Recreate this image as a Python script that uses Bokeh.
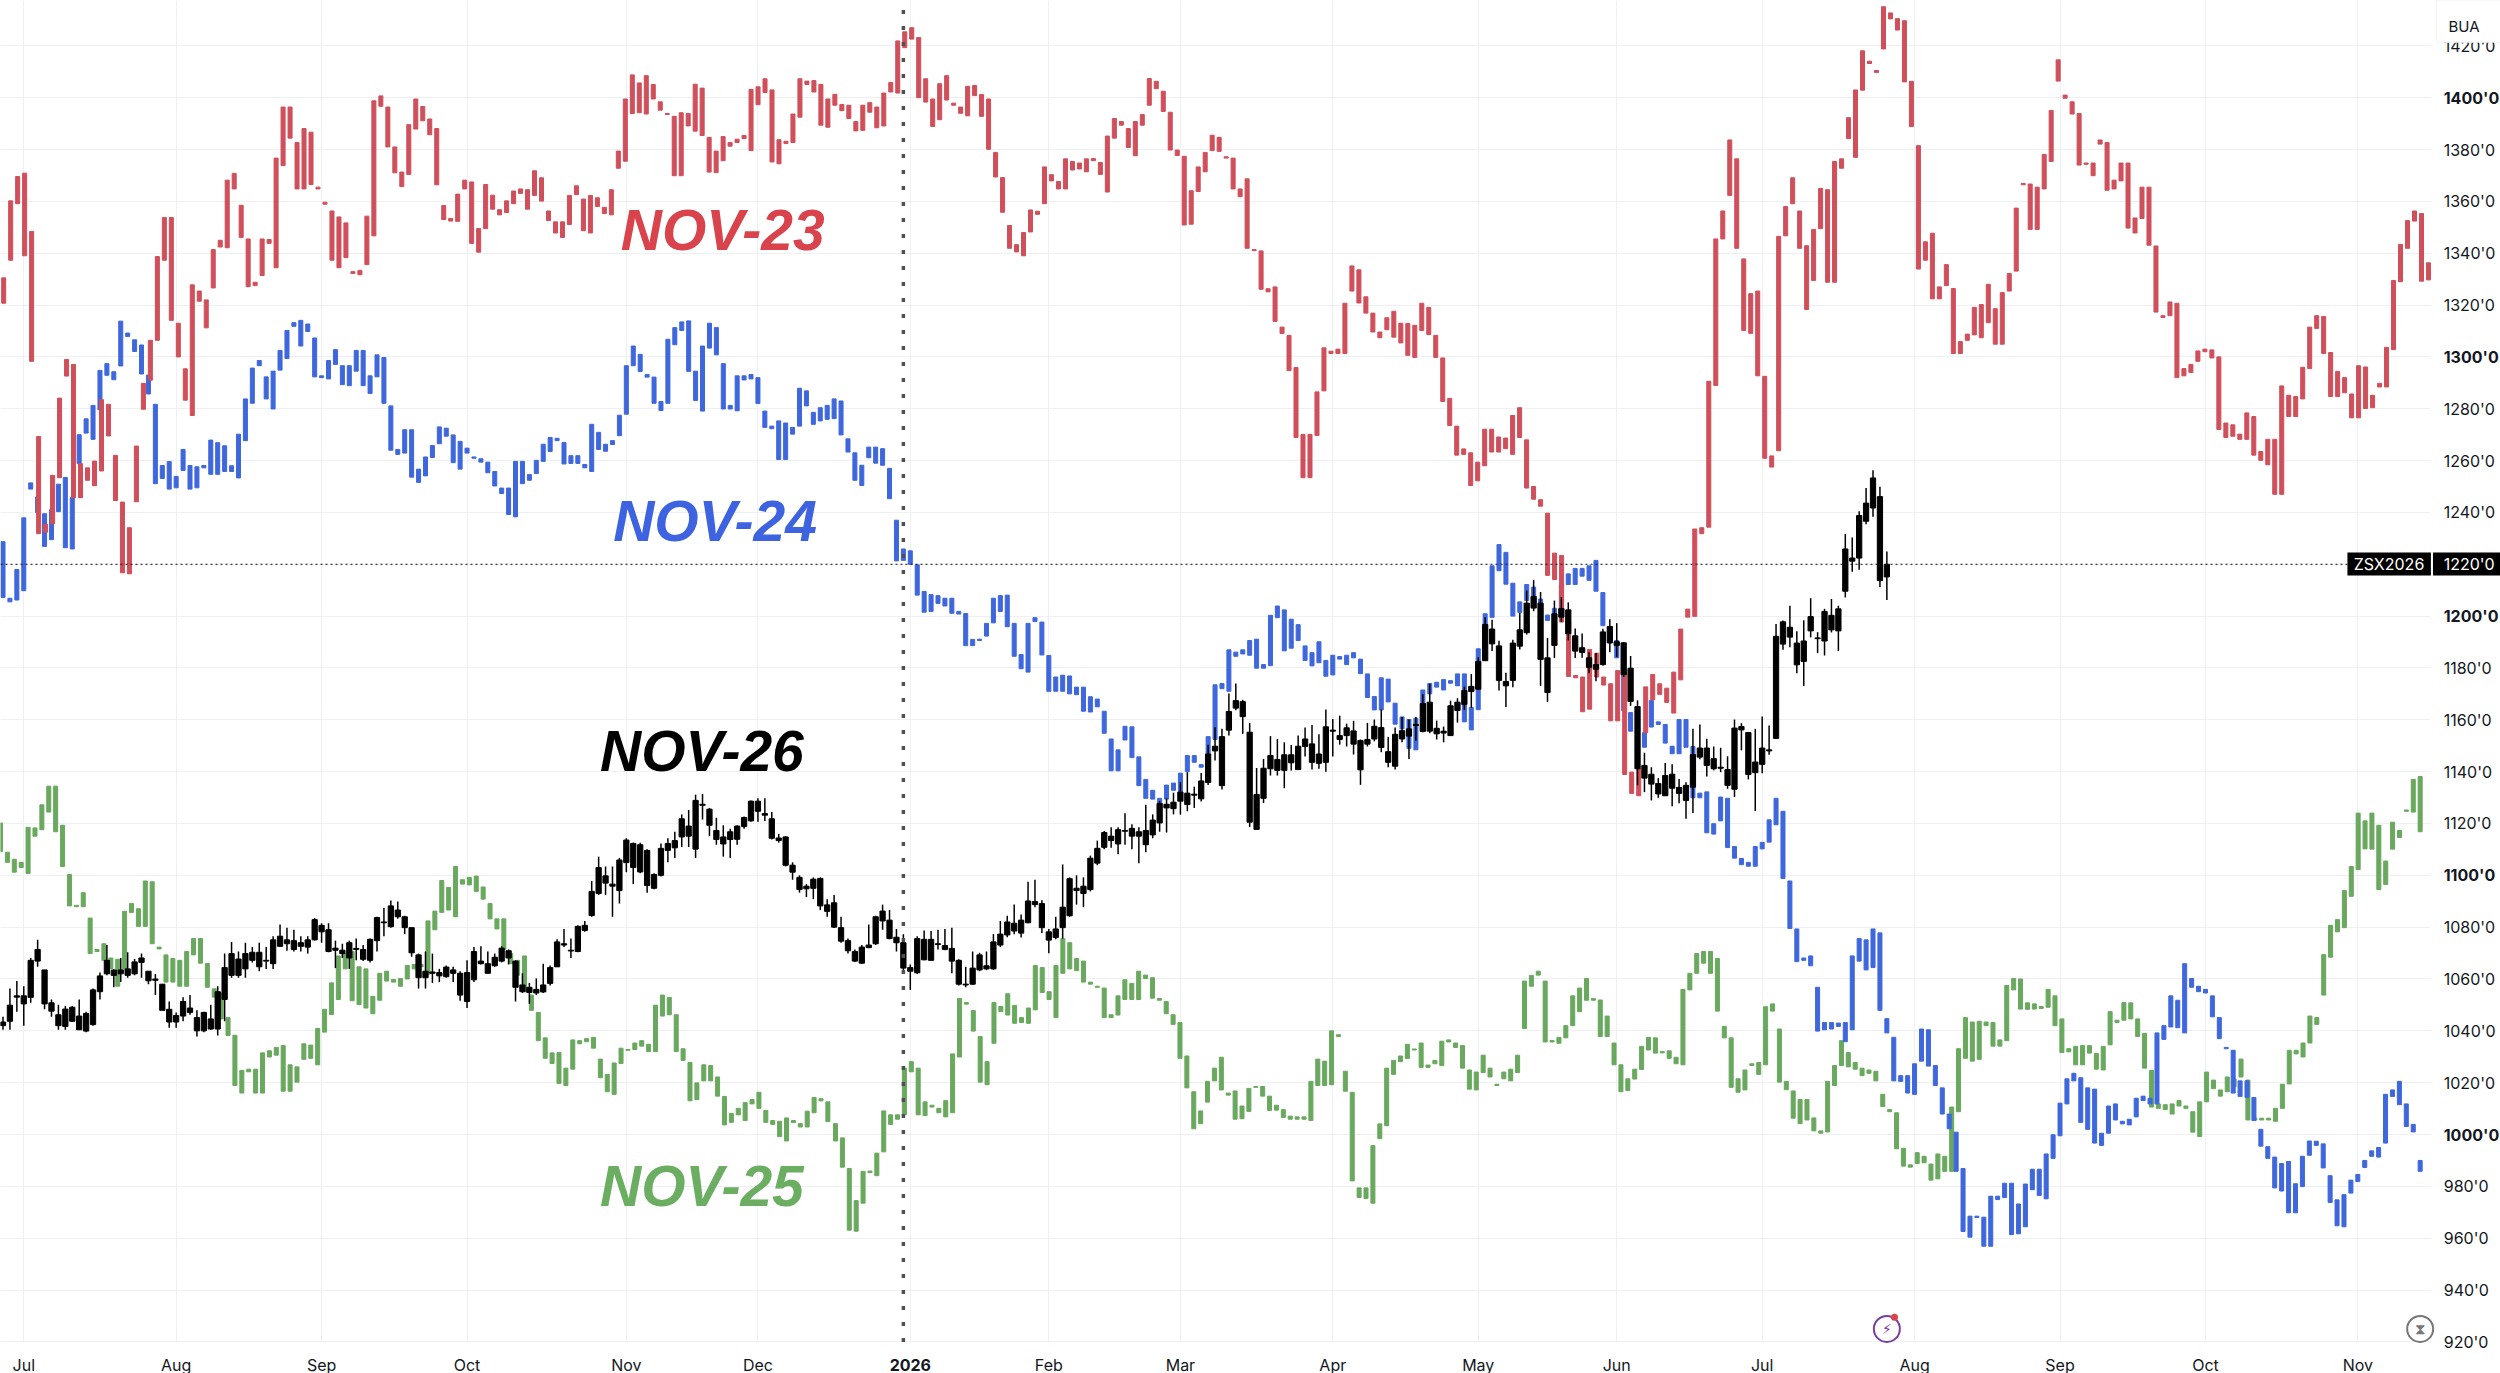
import numpy as np
from bokeh.plotting import figure
from bokeh.models import Range1d, FixedTicker, ColumnDataSource
from bokeh.core.properties import value
from bokeh.embed import file_html
from bokeh.resources import INLINE

# (high, low) of each session
red_bars = [(1330.5,1320.7),(1360.2,1337.3),(1369.6,1359.1),(1370.9,1339.0),(1348.4,1298.3),(1269.3,1231.8),(1235.4,1232.4),(1254.3,1235.6),(1284.1,1253.4),(1299.0,1292.6),
(1297.1,1245.7),(1258.8,1245.7),(1257.2,1252.4),(1259.8,1250.3),(1283.5,1256.0),(1281.7,1269.5),(1262.0,1244.6),(1244.0,1216.7),(1234.1,1216.3),(1265.6,1244.1),
(1289.8,1279.8),(1306.4,1291.0),(1338.7,1306.4),(1353.8,1337.3),(1353.8,1314.1),(1313.0,1300.0),(1295.4,1283.3),(1327.8,1277.4),(1325.4,1321.5),(1322.0,1311.2),
(1341.4,1326.6),(1345.0,1342.4),(1368.2,1342.1),(1370.8,1364.8),(1358.5,1346.1),(1345.5,1327.1),(1328.8,1327.5),(1345.5,1331.4),(1345.3,1343.8),(1376.7,1334.4),
(1396.4,1373.8),(1396.4,1384.4),(1382.7,1364.8),(1388.1,1364.8),(1386.7,1366.5),(1365.5,1364.8),(1359.7,1358.9),(1356.3,1337.3),(1354.0,1334.4),(1351.7,1338.3),
(1332.9,1332.2),(1333.4,1331.7),(1354.3,1335.6),(1398.8,1346.7),(1400.7,1396.7),(1396.4,1381.0),(1381.0,1371.0),(1371.3,1365.7),(1389.6,1370.4),(1399.5,1387.9),
(1396.6,1391.1),(1391.8,1385.7),(1388.1,1366.4),(1358.4,1353.0),(1353.4,1352.4),(1362.8,1352.3),(1368.2,1364.8),(1367.5,1343.8),(1349.5,1340.4),(1366.5,1349.5),
(1362.4,1357.0),(1356.8,1354.8),(1360.2,1355.7),(1364.0,1359.1),(1364.8,1363.1),(1364.5,1357.0),(1371.8,1362.3),(1369.1,1360.1),(1356.3,1352.6),(1352.1,1347.8),
(1352.1,1346.1),(1362.3,1351.1),(1366.0,1362.6),(1360.9,1348.7),(1362.3,1347.8),(1361.4,1358.0),(1357.7,1355.3),(1364.5,1354.8),(1379.4,1372.8),(1399.5,1375.5),
(1408.8,1393.9),(1405.7,1394.2),(1408.5,1393.7),(1405.1,1399.5),(1398.4,1395.2),(1393.9,1393.5),(1392.8,1369.9),(1394.2,1369.9),(1393.9,1389.1),(1405.2,1387.1),
(1403.7,1385.4),(1384.7,1371.3),(1379.4,1371.1),(1385.0,1375.7),(1382.7,1381.3),(1384.0,1382.7),(1385.4,1384.2),(1403.2,1379.6),(1404.2,1397.3),(1407.3,1402.0),
(1403.0,1375.2),(1383.8,1374.5),(1383.2,1382.3),(1393.7,1382.7),(1407.3,1392.5),(1406.4,1405.1),(1406.6,1402.2),(1405.1,1389.4),(1399.5,1388.6),
(1401.3,1397.1),(1397.4,1395.0),(1397.1,1392.0),(1390.8,1387.2),(1397.1,1387.4),(1398.1,1394.4),(1396.4,1388.4),(1401.8,1389.1),(1405.9,1402.2),(1421.9,1401.8),
(1425.4,1419.3),(1427.0,1422.6),(1423.2,1400.0),(1407.3,1398.3),(1399.5,1388.9),(1405.4,1391.5),(1408.5,1399.1),(1397.9,1397.1),(1396.4,1394.0),(1404.4,1393.0),
(1404.7,1400.8),(1401.2,1392.8),(1399.5,1380.1),(1378.9,1369.4),(1369.2,1355.8),(1350.7,1341.9),(1343.3,1340.5),(1348.0,1339.0),(1356.7,1348.2),(1356.2,1355.0),
(1373.3,1359.1),(1370.3,1367.9),(1367.7,1364.8),(1376.4,1364.8),(1375.4,1372.1),(1374.8,1372.5),(1376.4,1371.4),(1376.5,1375.7),(1375.0,1370.4),(1385.2,1363.6),
(1392.0,1384.4),(1390.8,1389.4),(1388.1,1380.8),(1390.8,1377.6),(1393.5,1389.4),(1407.4,1397.1),(1406.3,1403.5),(1402.5,1394.7),(1394.4,1379.8),(1379.8,1377.7),
(1377.4,1350.9),(1364.1,1351.2),(1373.3,1363.8),(1378.9,1371.4),(1385.5,1379.6),(1384.7,1379.3),(1377.2,1376.7),(1376.7,1364.8),(1364.8,1361.8),(1368.7,1341.9),
(1341.4,1341.0),(1340.9,1326.1),(1326.3,1325.1),(1327.0,1313.7),(1311.5,1309.0),(1308.3,1294.7),(1295.9,1268.9),(1270.1,1253.4),(1270.1,1253.4),(1286.5,1269.7),
(1303.5,1286.9),(1302.2,1301.3),(1303.0,1301.3),(1320.7,1301.3),(1335.1,1325.4),(1333.6,1320.8),(1323.2,1316.9),(1316.9,1309.6),(1309.6,1307.4),(1315.1,1310.5),
(1317.6,1307.6),(1313.0,1305.4),(1312.9,1300.6),(1312.2,1299.8),(1320.7,1310.2),(1319.1,1308.6),(1308.3,1299.8),(1299.6,1282.8),(1284.0,1273.5),(1273.3,1262.1),
(1264.5,1262.4),(1263.0,1250.4),(1259.4,1252.2),(1272.1,1258.0),(1272.1,1263.3),(1269.1,1263.3),(1268.7,1264.6),(1277.4,1262.4),(1280.4,1268.9),(1268.0,1249.4),
(1250.0,1245.1),(1244.9,1242.4),(1239.7,1215.7),(1224.3,1214.1),(1223.4,1197.7),(1198.1,1176.7),(1177.1,1176.2),(1176.5,1163.1),(1187.1,1164.1),(1185.7,1176.5),
(1176.5,1173.4),(1173.9,1159.6),(1179.0,1159.6),(1179.0,1138.9),(1139.8,1131.6),(1141.1,1130.7),(1172.7,1155.0),(1177.5,1167.7),(1173.9,1169.8),(1172.2,1166.7),
(1178.4,1162.6),(1195.0,1175.4),(1202.7,1199.6),(1233.6,1199.9),(1234.1,1231.8),(1290.6,1234.3),(1345.5,1289.0),(1356.3,1345.5),(1383.7,1362.3),(1376.4,1341.9),
(1337.8,1310.2),(1324.4,1309.1),(1325.4,1292.7),(1292.5,1260.9),(1261.8,1257.5),(1346.5,1263.8),(1358.0,1346.7),(1369.1,1359.1),(1356.3,1341.9),(1342.9,1318.3),
(1349.2,1329.5),(1365.0,1349.5),(1364.5,1328.8),(1375.4,1328.8),(1376.4,1372.8),(1392.3,1384.2),(1403.0,1377.0),(1418.1,1402.9),(1414.1,1413.2),(1410.5,1409.7),
(1435.1,1418.8),(1432.7,1430.4),(1430.5,1426.1),(1429.7,1406.1),(1406.3,1388.9),(1381.5,1333.9),(1344.4,1337.3),(1347.7,1322.4),(1327.0,1322.4),(1335.6,1327.5),
(1326.4,1301.3),(1305.9,1301.3),(1308.8,1306.4),(1319.1,1308.5),(1320.2,1307.4),(1328.0,1313.2),(1318.6,1304.9),(1324.8,1304.9),(1332.2,1325.4),(1357.4,1333.1),
(1366.9,1366.4),(1366.7,1349.2),(1365.5,1349.2),(1378.1,1364.8),(1395.1,1375.4),(1414.6,1406.4),(1401.0,1399.8),(1398.4,1393.7),(1393.9,1374.0),(1374.8,1374.3),
(1374.8,1369.9),(1383.7,1382.1),(1382.7,1364.3),(1368.2,1364.8),(1374.8,1367.9),(1374.8,1349.7),(1353.6,1347.8),(1365.5,1353.4),(1365.5,1343.1),(1342.8,1317.3),
(1315.9,1315.2),(1321.2,1315.9),(1320.7,1292.0),(1295.5,1292.7),(1297.1,1294.0),(1302.3,1298.3),(1303.0,1302.0),(1302.7,1299.6),(1300.0,1272.0),(1274.5,1268.9),
(1273.8,1269.4),(1270.2,1268.2),(1278.4,1268.2),(1277.0,1262.1),(1263.5,1260.1),(1268.2,1258.4),(1268.2,1247.0),(1288.8,1247.0),(1285.2,1277.0),(1284.7,1277.0),
(1296.0,1283.8),(1311.5,1295.5),(1315.9,1311.0),(1315.6,1301.3),(1301.7,1284.7),(1294.4,1284.7),(1292.0,1286.2),(1285.7,1276.5),(1296.6,1276.5),(1296.1,1280.1),
(1285.2,1280.4),(1289.8,1288.4),(1303.7,1288.4),(1329.5,1302.8),(1343.4,1329.0),(1352.6,1341.9),(1356.3,1352.4),(1355.3,1329.2),(1336.3,1329.7)]

blue_bars = [(1228.7,1207.2),(1206.9,1205.5),(1218.0,1206.2),(1237.9,1209.8),(1251.4,1249.0),(1246.0,1240.0),(1239.5,1226.9),(1241.0,1229.5),(1250.9,1240.3),(1253.5,1226.4),
(1245.7,1225.9),(1270.0,1258.8),(1276.1,1270.6),(1281.3,1268.2),(1294.8,1279.6),(1297.4,1292.9),(1294.3,1291.2),(1313.8,1296.5),(1309.2,1307.9),(1306.6,1302.1),
(1304.6,1293.4),(1293.0,1285.7),(1281.7,1251.1),(1258.1,1253.1),(1259.6,1249.0),(1253.9,1249.5),(1264.3,1256.2),(1258.1,1249.0),(1257.6,1249.5),(1258.1,1257.2),
(1267.9,1254.7),(1266.9,1254.7),(1265.7,1255.8),(1258.0,1255.8),(1270.2,1253.3),(1283.8,1267.7),(1295.7,1282.1),(1298.6,1296.6),(1292.3,1283.8),(1294.5,1279.9),
(1302.5,1294.9),(1310.2,1299.4),(1313.2,1311.8),(1314.1,1304.2),(1312.7,1309.8),(1307.3,1292.3),(1292.7,1292.0),(1298.6,1291.5),(1302.8,1297.1),(1296.6,1289.3),
(1296.6,1288.9),(1302.5,1294.5),(1302.5,1288.9),(1292.7,1285.9),(1300.8,1292.3),(1299.8,1282.1),(1281.1,1264.0),(1264.3,1262.4),(1271.9,1262.9),(1271.9,1253.6),
(1256.7,1251.6),(1261.4,1254.1),(1265.8,1261.2),(1273.0,1266.5),(1272.5,1269.4),(1269.9,1259.2),(1267.4,1256.7),(1264.8,1262.9),(1261.4,1260.9),(1260.7,1259.4),
(1259.4,1255.3),(1255.8,1250.2),(1249.4,1247.3),(1249.4,1239.2),(1259.7,1238.3),(1259.7,1251.1),(1254.6,1252.4),(1260.1,1255.0),(1266.3,1259.7),(1268.9,1263.5),
(1268.6,1267.7),(1267.0,1258.7),(1261.9,1258.9),(1261.9,1258.9),(1258.5,1257.2),(1274.0,1255.8),(1270.9,1264.3),(1266.3,1263.6),(1267.7,1266.2),(1277.5,1269.6),
(1296.6,1277.9),(1304.2,1296.6),(1301.0,1294.4),(1293.2,1292.2),(1292.2,1282.1),(1282.8,1279.3),(1306.8,1282.1),(1311.3,1304.7),(1313.5,1310.2),(1313.9,1294.4),
(1294.5,1283.2),(1304.2,1279.1),(1313.0,1303.4),(1311.3,1300.8),(1297.4,1279.9),(1281.3,1279.9),(1292.7,1279.2),(1292.7,1291.1),(1293.2,1291.5),(1292.0,1282.0),
(1279.1,1272.8),(1273.3,1272.3),(1275.3,1260.4),(1274.5,1260.4),(1272.8,1270.2),(1287.9,1273.3),(1286.9,1281.1),(1278.6,1274.0),(1280.4,1275.3),(1281.3,1275.9),
(1283.8,1276.2),(1283.0,1269.9),(1268.4,1263.3),(1263.0,1252.4),(1258.2,1250.4),(1265.2,1261.1),(1265.2,1259.0),(1264.6,1258.2),(1257.0,1245.3),(1237.0,1221.3),
(1225.9,1221.5),(1225.2,1220.0),(1219.8,1208.1),(1209.5,1201.5),(1208.3,1201.8),(1207.9,1204.9),(1206.9,1203.9),(1206.9,1201.1),(1201.8,1200.8),(1201.0,1188.6),
(1191.0,1188.6),(1191.1,1190.6),(1197.2,1192.3),(1206.9,1197.4),(1207.9,1201.8),(1208.1,1195.9),(1197.2,1184.5),(1185.2,1179.7),(1197.2,1178.4),(1199.4,1197.9),
(1197.7,1185.0),(1184.8,1171.0),(1176.5,1171.0),(1177.2,1171.0),(1176.9,1170.0),(1172.6,1169.7),(1172.6,1163.3),(1168.9,1163.0),(1168.0,1165.0),(1163.3,1154.8),
(1152.6,1140.3),(1148.4,1140.3),(1157.5,1152.2),(1157.3,1145.4),(1145.7,1134.6),(1137.0,1129.7),(1132.8,1129.4),(1129.7,1127.4),(1134.8,1129.4),(1135.6,1132.8),
(1139.4,1130.1),(1146.2,1140.0),(1146.2,1143.6),(1142.7,1141.7),(1153.5,1146.8),(1173.5,1152.4),(1174.0,1172.0),(1187.0,1171.0),(1186.1,1184.5),(1187.0,1185.4),
(1190.6,1184.9),(1191.1,1179.9),(1181.3,1179.9),(1200.3,1180.9),(1203.9,1199.4),(1202.4,1186.6),(1198.8,1187.6),(1196.7,1190.6),(1188.5,1182.9),(1185.9,1180.8),
(1190.1,1182.0),(1182.9,1176.8),(1184.9,1177.3),(1184.4,1183.4),(1184.9,1181.3),(1185.9,1183.9),(1183.4,1177.8),(1177.7,1168.6),(1169.0,1163.8),(1176.2,1163.8),
(1175.7,1166.9),(1166.4,1158.3),(1161.1,1156.5),(1160.1,1149.0),(1160.6,1148.4),(1171.5,1163.6),(1174.0,1170.0),(1174.5,1172.6),(1175.5,1171.5),(1175.1,1174.1),
(1177.7,1173.1),(1177.7,1159.2),(1164.8,1156.1),(1187.4,1163.9),(1200.9,1190.0),(1219.4,1199.5),(1227.6,1217.5),(1224.6,1212.3),(1212.7,1200.0),(1205.5,1201.4),
(1212.2,1206.0),(1211.2,1206.0),(1206.6,1200.0),(1200.4,1198.3),(1203.0,1199.6),(1212.0,1203.0),(1216.3,1212.2),(1218.4,1212.2),(1218.4,1215.4),(1219.4,1213.8),
(1221.5,1209.6),(1209.1,1196.3),(1196.0,1189.6),(1190.6,1183.9),(1177.7,1163.6),(1162.8,1155.6),(1163.0,1156.0),(1155.0,1149.4),(1167.5,1157.2),(1159.2,1158.2),
(1158.2,1151.0),(1149.8,1146.9),(1160.1,1146.9),(1160.1,1149.4),(1149.7,1129.9),(1131.7,1129.9),(1132.2,1116.4),(1119.9,1115.9),(1130.2,1121.0),(1129.7,1110.7),
(1111.1,1106.6),(1106.5,1104.1),(1105.0,1103.5),(1111.1,1103.5),(1112.7,1110.2),(1121.4,1112.8),(1129.7,1119.5),(1124.7,1098.8),(1097.8,1079.5),(1079.3,1066.7),
(1068.1,1067.2),(1068.9,1065.1),(1056.8,1039.9),(1043.2,1040.4),(1043.2,1040.7),(1043.0,1041.7),(1043.2,1035.8),(1068.9,1040.4),(1075.6,1066.9),(1075.1,1063.5),
(1079.3,1064.4),(1077.8,1047.9),(1044.7,1039.2),(1037.5,1020.7),(1022.7,1020.5),(1022.7,1016.0),(1027.3,1015.5),(1040.7,1028.3),(1040.4,1026.4),(1026.6,1018.9),
(1018.0,1007.9),(1007.9,1002.2),(1000.9,985.8),(986.9,962.6),(968.5,960.4),(968.5,968.0),(968.1,956.9),(976.2,956.9),(976.2,974.9),(981.2,975.7),
(981.2,961.4),(973.2,961.7),(980.9,964.4),(986.6,978.7),(986.6,976.5),(992.5,975.2),(999.9,990.8),(1012.1,999.5),(1021.5,1011.8),(1023.6,1020.7),
(1021.9,1004.7),(1018.0,1002.0),(1017.5,996.7),(1000.5,995.8),(1011.0,1000.5),(1011.8,1005.6),(1005.1,1004.1),(1005.9,1003.7),(1014.0,1006.8),(1014.8,1013.1),
(1014.0,1011.8),(1039.2,1011.8),(1042.0,1036.7),(1053.5,1041.5),(1051.8,1041.2),(1065.9,1039.2),(1060.2,1056.8),(1057.2,1055.1),(1056.0,1054.6),(1053.5,1045.4),
(1045.1,1037.0),(1033.6,1033.1),(1032.5,1016.0),(1020.7,1014.7),(1020.7,1014.3),(1014.3,1005.4),(1002.0,995.5),(995.3,990.8),(991.3,979.4),(988.8,978.2),
(989.6,969.8),(981.0,969.8),(991.6,979.9),(997.5,992.0),(997.4,995.8),(996.4,987.1),(984.1,973.8),(974.8,964.8),(976.8,964.4),(982.4,977.4),
(984.6,981.9),(990.0,987.3),(993.7,991.6),(995.0,991.3),(1015.5,996.7),(1017.2,1014.7),(1020.5,1011.5),(1011.8,1003.1),(1003.9,1001.0),(990.0,985.8)]

green_bars = [(1120.2,1109.2),(1108.9,1105.0),(1106.2,1101.2),(1105.0,1103.0),(1118.5,1100.7),(1118.3,1115.1),(1127.2,1117.6),(1134.4,1124.4),(1134.4,1116.8),(1119.3,1103.4),
(1100.3,1088.2),(1088.4,1087.9),(1093.3,1087.9),(1083.5,1069.8),(1071.4,1070.6),(1073.6,1067.2),(1068.1,1063.9),(1067.6,1057.2),(1086.1,1063.9),(1089.1,1085.7),
(1087.1,1080.3),(1097.8,1080.3),(1097.5,1073.6),(1072.3,1071.6),(1069.3,1058.8),(1067.9,1058.8),(1067.2,1057.2),(1070.6,1057.2),(1075.6,1069.3),(1075.6,1066.1),
(1066.0,1056.8),(1056.2,1053.0),(1054.6,1044.6),(1045.1,1038.2),(1038.3,1018.9),(1024.7,1016.0),(1025.2,1024.2),(1025.2,1016.0),(1031.5,1016.0),(1032.3,1029.9),
(1033.6,1030.6),(1034.3,1016.7),(1026.9,1016.7),(1026.1,1020.2),(1035.0,1029.0),(1034.5,1029.4),(1040.9,1026.9),(1048.3,1039.5),(1058.5,1046.3),(1068.9,1052.1),
(1069.8,1063.9),(1070.6,1051.6),(1064.7,1050.1),(1063.9,1048.8),(1053.3,1046.6),(1062.2,1051.8),(1063.0,1059.2),(1059.8,1058.8),(1060.2,1057.2),(1065.2,1060.0),
(1065.6,1063.9),(1065.6,1064.7),(1082.4,1061.9),(1086.2,1079.0),(1098.0,1085.7),(1095.3,1086.6),(1103.4,1084.0),(1098.3,1096.6),(1099.2,1096.3),(1099.7,1093.8),
(1095.5,1090.8),(1089.1,1083.2),(1083.2,1079.3),(1083.2,1071.4),(1069.8,1065.9),(1067.2,1061.4),(1068.9,1055.1),(1053.8,1047.9),(1047.1,1036.2),(1037.3,1029.4),
(1031.5,1027.4),(1031.6,1019.7),(1025.6,1018.9),(1036.5,1025.2),(1036.2,1035.0),(1037.0,1035.8),(1037.5,1033.3),(1029.1,1021.9),(1023.2,1016.5),(1027.6,1015.5),
(1033.3,1027.4),(1032.8,1032.5),(1035.3,1032.8),(1036.2,1034.1),(1034.8,1032.0),(1049.9,1032.0),(1053.8,1045.7),(1052.9,1046.2),(1046.2,1032.0),(1033.1,1028.6),
(1027.8,1013.0),(1019.9,1013.5),(1026.9,1020.7),(1026.6,1020.7),(1022.2,1014.8),(1014.7,1003.7),(1008.1,1004.7),(1010.1,1007.6),(1012.3,1005.4),(1013.5,1011.8),
(1016.3,1010.1),(1009.3,1004.7),(1005.4,1003.9),(1005.1,999.2),(1006.4,997.5),(1005.4,1004.6),(1004.2,1002.9),(1009.0,1002.9),(1014.3,1008.4),(1013.8,1013.0),(1012.6,1005.0),
(1004.2,997.5),(998.7,987.4),(986.9,963.1),(974.5,962.7),(985.8,973.5),(985.9,985.3),(992.8,984.1),(1009.1,993.3),(1007.6,1003.9),(1007.6,1005.9),
(1025.6,1007.6),(1028.1,1024.2),(1025.6,1007.6),(1012.6,1007.3),(1011.3,1010.6),(1010.1,1008.4),(1013.1,1006.8),(1031.1,1008.4),(1052.5,1029.9),(1050.9,1050.3),
(1047.8,1039.9),(1037.8,1020.2),(1028.1,1019.2),(1050.9,1035.2),(1049.4,1047.4),(1054.3,1046.1),(1049.8,1042.9),(1045.1,1043.2),(1048.8,1042.9),(1065.2,1048.1),
(1064.4,1054.8),(1055.1,1052.1),(1065.2,1045.1),(1075.6,1062.2),(1074.0,1063.9),(1067.9,1063.2),(1066.9,1058.8),(1058.8,1058.0),(1057.2,1056.8),(1056.5,1045.1),
(1046.2,1045.1),(1053.5,1046.1),(1059.7,1052.1),(1058.3,1052.1),(1063.0,1052.1),(1061.5,1060.2),(1060.5,1052.6),(1052.5,1051.8),(1051.3,1046.6),(1046.2,1042.5),
(1043.2,1029.4),(1030.3,1018.0),(1016.5,1002.2),(1009.1,1004.2),(1020.5,1012.5),(1025.6,1020.7),(1029.8,1017.2),(1016.0,1015.2),(1016.8,1005.9),(1011.0,1006.1),
(1017.8,1008.9),(1018.5,1018.2),(1018.5,1014.8),(1014.8,1009.3),(1011.3,1009.4),(1009.6,1006.6),(1007.1,1005.9),(1006.8,1005.9),(1006.8,1005.9),(1020.5,1005.4),
(1029.1,1018.9),(1028.3,1018.9),(1040.0,1019.2),(1038.5,1037.8),(1024.4,1016.7),(1016.3,982.1),(979.4,975.7),(979.4,975.3),(995.7,973.5),(1004.1,998.4),
(1025.6,1003.4),(1028.6,1023.2),(1030.3,1028.1),(1034.8,1029.3),(1033.0,1032.6),(1035.3,1025.9),(1026.8,1025.9),(1028.6,1027.3),(1036.0,1026.6),(1036.5,1035.7),
(1035.3,1033.6),(1034.3,1025.6),(1024.9,1017.5),(1024.1,1017.2),(1030.6,1023.9),(1025.6,1022.2),(1019.4,1018.9),(1024.1,1021.5),(1025.2,1020.7),(1030.6,1023.9),
(1059.2,1040.9),(1061.4,1057.2),(1063.0,1061.5),(1059.2,1035.7),(1036.3,1035.7),(1037.5,1035.2),(1042.0,1037.3),(1053.5,1042.0),(1056.5,1047.4),(1060.2,1051.8),
(1052.5,1051.8),(1051.9,1037.8),(1045.7,1037.8),(1035.3,1026.9),(1026.9,1016.5),(1021.5,1017.0),(1025.2,1021.4),(1034.0,1025.1),(1037.5,1032.6),(1037.3,1031.4),
(1032.0,1031.5),(1032.3,1029.4),(1029.8,1027.3),(1056.0,1026.9),(1062.2,1055.8),(1069.8,1062.2),(1070.6,1066.1),(1070.6,1062.2),(1067.9,1047.6),(1041.7,1037.3),
(1037.3,1018.2),(1021.5,1016.3),(1024.9,1017.2),(1027.3,1026.6),(1027.8,1023.2),(1049.3,1026.9),(1050.4,1047.6),(1040.7,1020.2),(1020.5,1017.3),(1016.8,1006.3),
(1013.5,1004.2),(1013.5,1005.6),(1006.4,1001.4),(1001.4,1000.5),(1020.5,1001.0),(1026.6,1018.9),(1036.2,1026.6),(1031.6,1026.1),(1027.8,1025.2),(1025.6,1022.7),
(1024.9,1023.6),(1024.4,1020.7),(1015.5,1010.8),(1009.6,1008.8),(1008.4,994.5),(994.7,987.8),(988.3,987.4),(993.0,988.8),(991.6,989.1),(988.6,982.4),
(992.5,982.9),(991.6,985.8),(1010.6,985.8),(1033.1,1008.8),(1045.1,1029.4),(1043.4,1028.3),(1043.7,1029.0),(1043.4,1042.0),(1043.2,1034.1),(1036.5,1034.1),
(1057.5,1036.2),(1060.2,1055.8),(1060.0,1048.4),(1050.8,1048.3),(1050.4,1048.4),(1049.4,1048.6),(1056.0,1049.1),(1053.5,1042.0),(1044.6,1031.6),(1033.1,1031.9),
(1034.0,1026.9),(1034.3,1026.9),(1034.3,1031.4),(1031.3,1025.2),(1034.0,1024.9),(1047.4,1034.6),(1044.1,1043.2),(1050.9,1044.1),(1050.8,1044.6),(1044.6,1037.8),
(1039.0,1025.6),(1024.7,1010.6),(1011.8,1010.1),(1011.5,1009.6),(1011.8,1007.9),(1013.1,1011.0),(1011.0,1010.1),(1008.8,1000.9),(1012.6,999.2),(1024.1,1012.6),
(1021.0,1017.7),(1017.2,1014.8),(1022.2,1016.5),(1021.4,1018.5),(1029.1,1022.2),(1021.0,1005.6),(1006.3,1005.6),(1006.3,1005.6),(1006.3,1005.6),(1010.1,1005.1),
(1019.4,1010.1),(1032.5,1019.5),(1032.5,1031.1),(1035.3,1029.9),(1045.7,1035.3),(1045.1,1042.5),(1069.4,1053.8),(1080.7,1068.4),(1082.9,1078.2),(1094.1,1079.8),
(1103.4,1091.9),(1124.0,1102.2),(1121.0,1110.2),(1124.0,1110.1),(1119.3,1094.5),(1105.5,1096.5),(1120.5,1110.1),(1117.3,1114.6),(1125.2,1124.7),(1137.0,1124.4),(1138.1,1116.8)]

# (high, body top, body bottom, low) of each candle
black_candles = [(1045.4,1043.4,1042.0,1040.4),(1056.3,1049.9,1043.7,1040.4),(1059.2,1053.5,1053.0,1047.4),(1057.2,1053.5,1050.4,1042.0),(1068.1,1067.2,1052.9,1050.8),
(1075.1,1071.4,1066.9,1064.7),(1063.5,1063.5,1050.4,1048.3),(1052.1,1050.8,1047.6,1045.4),(1050.1,1046.2,1042.0,1040.4),(1049.6,1048.4,1041.7,1040.4),
(1049.6,1049.1,1043.7,1043.4),(1052.1,1045.7,1040.4,1040.4),(1047.4,1046.7,1039.9,1039.5),(1056.3,1055.8,1042.4,1042.0),(1062.5,1061.2,1055.1,1052.1),
(1073.1,1067.2,1062.0,1061.4),(1063.9,1063.4,1061.4,1056.8),(1068.1,1063.5,1062.0,1058.8),(1070.3,1063.9,1061.4,1060.5),(1067.7,1066.6,1062.0,1061.4),
(1069.8,1068.1,1066.4,1060.5),(1063.0,1063.0,1059.3,1058.0),(1061.9,1060.0,1059.5,1053.8),(1058.0,1058.0,1047.9,1047.9),(1051.3,1048.3,1043.4,1041.2),
(1047.1,1045.9,1043.4,1041.2),(1053.0,1051.3,1045.7,1043.7),(1053.8,1048.8,1047.1,1046.2),(1047.9,1045.1,1040.0,1037.8),(1047.4,1047.1,1040.0,1039.5),
(1050.1,1044.6,1040.7,1040.4),(1057.2,1055.1,1040.7,1038.2),(1069.8,1064.4,1052.1,1043.7),(1074.3,1069.8,1061.4,1060.5),(1070.6,1067.7,1061.4,1060.5),
(1074.0,1069.8,1063.9,1060.5),(1072.3,1070.3,1067.2,1066.4),(1074.0,1070.3,1064.7,1063.0),(1072.3,1067.2,1066.9,1063.9),(1076.5,1075.1,1065.9,1063.9),
(1081.0,1076.5,1072.6,1072.3),(1079.8,1075.1,1073.6,1070.9),(1079.0,1074.8,1071.4,1070.6),(1076.5,1074.0,1072.6,1070.6),(1076.5,1075.1,1072.3,1069.8),
(1083.5,1082.9,1075.1,1074.8),(1081.5,1080.7,1078.2,1074.0),(1081.5,1079.0,1070.6,1070.3),(1074.8,1071.9,1071.1,1064.2),(1073.6,1071.1,1069.8,1068.1),
(1074.8,1074.0,1068.1,1063.9),(1075.6,1071.8,1071.4,1067.2),(1073.1,1071.4,1067.6,1066.9),(1075.6,1075.3,1067.2,1066.4),(1084.0,1083.7,1074.8,1070.6),
(1087.4,1082.0,1081.7,1076.5),(1090.3,1088.2,1080.2,1079.8),(1089.9,1086.6,1084.0,1083.2),(1084.4,1084.0,1079.8,1077.3),(1079.8,1079.8,1070.1,1068.6),
(1069.8,1069.3,1060.5,1056.3),(1070.6,1063.0,1060.5,1056.3),(1069.8,1062.7,1062.2,1058.5),(1063.9,1062.5,1061.2,1058.8),(1065.2,1064.6,1060.9,1060.5),
(1064.7,1063.5,1062.2,1058.8),(1063.0,1062.2,1053.8,1051.6),(1067.2,1062.5,1051.3,1048.8),(1072.3,1070.6,1059.7,1058.8),(1072.6,1066.9,1065.9,1065.6),
(1070.6,1065.9,1062.2,1062.2),(1069.8,1068.4,1065.1,1064.7),(1072.6,1071.9,1066.9,1066.4),(1071.4,1070.9,1068.1,1065.6),(1067.2,1066.9,1056.8,1051.3),
(1062.2,1057.7,1055.1,1054.6),(1058.5,1056.8,1054.8,1050.4),(1060.2,1056.0,1054.6,1053.8),(1065.9,1057.7,1055.0,1054.6),(1065.2,1064.4,1058.3,1057.5),
(1075.3,1074.3,1064.7,1064.7),(1079.3,1073.6,1073.1,1072.3),(1075.6,1071.1,1070.8,1068.1),(1080.7,1080.3,1070.6,1070.3),(1082.4,1080.7,1078.7,1078.2),
(1097.8,1093.8,1084.5,1084.0),(1107.2,1103.0,1093.0,1092.4),(1103.4,1099.8,1097.0,1092.4),(1103.4,1096.6,1095.8,1084.0),(1106.7,1105.9,1094.1,1089.1),
(1114.3,1113.6,1104.9,1101.2),(1112.6,1112.3,1103.0,1096.6),(1112.6,1111.8,1101.3,1100.8),(1110.1,1109.6,1096.1,1093.3),(1100.8,1100.3,1095.0,1094.6),
(1112.3,1110.4,1100.0,1099.5),(1114.3,1112.3,1109.6,1105.0),(1116.8,1113.4,1110.6,1106.7),(1123.5,1121.8,1114.8,1110.9),(1125.2,1119.0,1115.1,1110.9),
(1131.1,1128.9,1110.1,1106.7),(1131.4,1127.4,1127.0,1121.5),(1126.0,1125.5,1119.3,1115.1),(1122.2,1117.3,1113.8,1111.8),(1119.3,1114.8,1112.1,1107.2),
(1118.0,1116.8,1113.8,1106.7),(1119.3,1119.0,1113.9,1111.8),(1122.7,1122.3,1118.8,1118.0),(1128.9,1128.6,1121.0,1120.7),(1129.7,1128.6,1124.7,1120.7),
(1129.7,1123.8,1123.2,1121.0),(1124.4,1121.8,1114.3,1113.8),(1116.0,1114.4,1113.4,1112.6),(1115.1,1114.8,1103.9,1103.4),(1105.0,1103.9,1101.2,1098.3),
(1100.0,1099.2,1094.5,1093.3),(1096.6,1095.8,1094.8,1091.6),(1099.2,1098.5,1095.0,1090.8),(1099.2,1098.8,1088.2,1086.6),(1090.8,1088.6,1086.1,1084.0),
(1092.4,1089.4,1080.0,1079.7),(1084.0,1079.8,1074.6,1074.0),(1075.6,1074.8,1070.9,1069.8),(1071.4,1070.6,1066.9,1066.6),(1073.1,1072.3,1066.1,1065.9),
(1081.0,1073.1,1072.1,1071.9),(1084.4,1084.0,1073.6,1073.1),(1088.7,1086.2,1082.4,1079.0),(1086.6,1082.7,1075.6,1075.3),(1079.3,1076.1,1074.0,1070.6),
(1077.3,1074.0,1064.2,1063.5),(1065.6,1064.4,1063.0,1055.8),(1076.5,1075.6,1062.4,1061.9),(1078.7,1075.3,1067.4,1067.2),(1078.5,1075.3,1067.2,1067.2),
(1079.0,1073.6,1073.3,1071.4),(1079.3,1072.9,1071.4,1071.1),(1079.8,1071.8,1066.9,1062.2),(1067.6,1067.2,1058.0,1057.5),(1064.7,1058.0,1057.7,1056.8),
(1070.6,1064.2,1058.0,1057.7),(1070.1,1069.3,1063.5,1063.0),(1070.6,1065.1,1063.9,1063.4),(1077.3,1074.3,1063.9,1063.5),(1082.4,1077.3,1073.1,1072.3),
(1084.4,1082.0,1077.0,1076.1),(1088.7,1081.5,1078.5,1077.3),(1084.9,1082.7,1077.7,1076.0),(1097.5,1090.1,1081.7,1081.5),(1098.3,1089.9,1088.7,1087.7),
(1090.4,1089.1,1079.8,1077.7),(1079.3,1078.2,1075.0,1069.9),(1084.0,1079.3,1076.0,1075.3),(1104.2,1087.7,1079.8,1075.6),(1099.2,1098.7,1084.4,1084.0),
(1100.0,1095.0,1094.1,1088.7),(1099.2,1095.8,1093.0,1087.7),(1107.6,1106.6,1094.5,1093.8),(1113.4,1110.4,1104.7,1103.9),(1117.1,1116.5,1110.8,1110.1),
(1118.5,1115.1,1113.4,1110.6),(1118.5,1117.6,1112.1,1108.1),(1123.9,1117.3,1117.0,1111.8),(1119.7,1118.1,1115.1,1110.1),(1118.5,1116.8,1115.1,1104.7),
(1127.2,1117.3,1111.8,1108.9),(1123.5,1121.3,1115.6,1114.3),(1128.6,1127.7,1120.2,1116.8),(1129.7,1127.4,1126.0,1116.5),(1131.9,1128.2,1125.7,1123.5),
(1135.9,1132.1,1128.6,1123.4),(1139.8,1131.7,1127.3,1124.7),(1134.2,1131.3,1130.9,1126.0),(1139.5,1136.4,1129.5,1128.5),(1150.4,1146.8,1135.8,1134.8),
(1157.1,1149.8,1148.0,1144.3),(1156.5,1153.5,1134.6,1133.1),(1170.1,1163.2,1156.0,1153.9),(1174.0,1167.4,1164.5,1163.7),(1167.7,1167.0,1161.2,1154.6),
(1158.8,1155.2,1120.5,1118.6),(1141.4,1131.2,1117.7,1117.7),(1144.9,1141.3,1129.7,1127.9),(1153.7,1146.2,1141.1,1138.5),(1152.6,1144.7,1140.5,1138.5),
(1151.3,1146.5,1140.5,1133.6),(1150.3,1146.5,1143.4,1140.4),(1153.9,1149.8,1140.8,1140.7),(1157.0,1152.6,1149.7,1145.8),(1158.0,1150.7,1143.6,1140.8),
(1154.4,1146.8,1143.2,1141.1),(1164.0,1157.3,1143.6,1140.0),(1160.3,1156.0,1155.6,1145.8),(1161.6,1153.9,1152.4,1150.4),(1158.5,1156.9,1153.9,1149.7),
(1159.6,1155.7,1150.6,1146.6),(1152.4,1152.0,1140.7,1134.9),(1158.8,1152.4,1150.6,1149.7),(1160.1,1157.5,1152.6,1151.7),(1164.0,1157.0,1149.3,1147.5),
(1153.4,1147.7,1143.6,1141.7),(1157.0,1154.4,1142.1,1140.8),(1161.1,1155.8,1152.6,1151.3),(1160.1,1156.5,1153.7,1144.9),(1161.1,1158.2,1157.8,1151.9),
(1169.9,1166.3,1155.5,1155.2),(1173.9,1166.8,1155.6,1154.8),(1159.7,1156.7,1154.6,1152.4),(1157.4,1155.6,1154.9,1151.3),(1167.4,1165.4,1153.9,1153.9),
(1168.3,1166.8,1163.6,1158.9),(1172.8,1171.3,1165.9,1163.8),(1177.7,1172.9,1170.9,1164.7),(1184.1,1182.5,1171.8,1171.5),(1199.6,1196.8,1182.8,1182.8),
(1198.6,1195.0,1189.3,1186.5),(1190.5,1188.5,1175.2,1171.3),(1178.1,1174.8,1173.1,1164.9),(1190.9,1189.6,1175.2,1172.6),(1201.2,1194.7,1188.4,1187.1),
(1209.9,1205.0,1193.6,1192.9),(1214.0,1207.6,1203.1,1201.9),(1209.3,1205.0,1183.3,1173.1),(1191.6,1183.9,1170.5,1166.9),(1206.0,1200.9,1188.7,1183.8),
(1207.3,1202.9,1199.6,1197.7),(1205.3,1202.4,1193.2,1190.6),(1195.2,1192.4,1186.5,1183.8),(1193.3,1187.8,1186.0,1183.9),(1186.1,1183.9,1180.2,1178.0),
(1185.8,1181.3,1179.5,1174.9),(1195.1,1193.9,1181.3,1180.8),(1198.8,1196.0,1189.7,1186.1),(1197.3,1190.1,1188.7,1184.2),(1190.0,1189.7,1177.4,1176.5),
(1184.6,1179.9,1167.1,1165.4),(1167.5,1165.1,1141.1,1134.7),(1147.3,1142.4,1137.5,1132.1),(1141.7,1139.0,1135.2,1128.9),(1137.5,1135.4,1131.4,1129.9),
(1143.3,1138.5,1130.7,1130.7),(1142.8,1139.0,1133.6,1126.6),(1137.2,1133.9,1131.6,1127.8),(1135.9,1134.7,1128.9,1121.8),(1156.5,1146.6,1134.0,1124.0),
(1158.2,1149.1,1145.6,1144.8),(1152.7,1149.1,1142.4,1138.1),(1149.7,1145.0,1141.1,1140.5),(1149.2,1141.7,1141.3,1139.8),(1145.9,1140.8,1134.7,1133.4),
(1160.1,1156.8,1133.2,1130.2),(1158.7,1157.4,1156.1,1148.2),(1155.2,1155.1,1138.9,1137.0),(1156.5,1143.7,1139.6,1124.8),(1161.3,1149.1,1142.8,1139.4),
(1157.8,1148.4,1148.0,1146.5),(1197.0,1192.2,1152.8,1152.8),(1198.3,1197.8,1189.2,1187.0),(1204.0,1195.7,1191.9,1188.0),(1194.2,1189.6,1181.2,1178.0),
(1198.4,1190.4,1182.5,1173.0),(1206.9,1199.8,1194.3,1191.8),(1193.8,1191.6,1191.3,1185.7),(1202.8,1201.8,1190.4,1184.8),(1206.6,1200.3,1194.7,1193.7),
(1204.0,1202.8,1194.3,1186.5),(1231.7,1225.9,1209.6,1207.2),(1230.3,1222.4,1221.2,1217.1),(1240.5,1238.8,1222.4,1217.9),(1249.4,1243.6,1236.6,1235.4),
(1256.3,1253.3,1241.7,1238.3),(1249.9,1246.1,1213.7,1211.2),(1224.9,1220.0,1215.1,1206.2)]

month_sessions = [3, 25, 46, 67, 90, 109, 131, 151, 170, 192, 213, 233, 254, 276, 297, 318, 340]
month_labels = ["Jul", "Aug", "Sep", "Oct", "Nov", "Dec", "2026", "Feb", "Mar", "Apr", "May", "Jun", "Jul", "Aug", "Sep", "Oct", "Nov"]
year_break = 130
last_price = 1220
price_ticks = list(range(920, 1421, 20))
bold_prices = [1000, 1100, 1200, 1300, 1400]
series_names = ["NOV-23", "NOV-24", "NOV-26", "NOV-25"]
series_colors = ["#d9444c", "#3d63e0", "#000000", "#6bae62"]
name_sessions = [89.2, 88.1, 86.2, 86.2]
name_prices = [1349.0, 1236.7, 1148.1, 980.3]

RED, BLUE, GREEN = "#cf4f5a", "#3f67dc", "#69a85e"
INK = "#131722"
FONT = value("Inter")
SIZE = "16px"

X0, X1 = -0.361, 360.6          # whole canvas in sessions
Y0, Y1 = 907.8, 1437.5          # whole canvas in price
PLOT_RIGHT = 350.55             # the price scale starts here
PLOT_BOTTOM = 920
LABEL_X = 352.4                 # left edge of the price labels
MONTH_Y = 910.9                 # centre of the month labels

p = figure(width=2500, height=1373, x_range=Range1d(X0, X1), y_range=Range1d(Y0, Y1),
           toolbar_location=None, output_backend="svg",
           min_border=0, min_border_left=0, min_border_right=0, min_border_top=0, min_border_bottom=0)
p.outline_line_color = None
p.background_fill_color = "#ffffff"
p.border_fill_color = "#ffffff"
p.xaxis.visible = False
p.yaxis.visible = False
p.xaxis.ticker = FixedTicker(ticks=month_sessions)
p.yaxis.ticker = FixedTicker(ticks=price_ticks)
p.xgrid.ticker = FixedTicker(ticks=month_sessions)
p.ygrid.ticker = FixedTicker(ticks=price_ticks)
p.xgrid.grid_line_color = "#eef0f4"
p.ygrid.grid_line_color = "#eef0f4"
p.xgrid.grid_line_width = 1
p.ygrid.grid_line_width = 1

# scale areas keep the grid out
p.quad(left=[PLOT_RIGHT, X0], right=[X1, X1], bottom=[Y0, Y0], top=[Y1, PLOT_BOTTOM - 0.2], color="#ffffff", line_color=None)

BAR_W = 0.58

def bars(rows, xs, color):
    hi, lo = zip(*rows)
    src = ColumnDataSource(dict(x=xs, top=hi, bottom=lo))
    p.vbar(x="x", top="top", bottom="bottom", width=BAR_W, color=color, source=src)

green_x = np.interp(np.arange(len(green_bars)), [0, 120, 121, len(green_bars) - 1], [-0.36, 119.1, 120.2, 349.0])
blue_x = np.arange(len(blue_bars), dtype=float)
red_x = np.interp(np.arange(len(red_bars)), [0, 118, 220, 245, len(red_bars) - 1], [0.1, 119.1, 222.0, 247.3, 350.2])

bars(green_bars, green_x, GREEN)
bars(blue_bars, blue_x, BLUE)
bars(red_bars, red_x, RED)

hi, top, bot, lo = zip(*black_candles)
bx = np.arange(len(black_candles), dtype=float)
bsrc = ColumnDataSource(dict(x=bx, high=hi, top=top, bottom=bot, low=lo))
p.segment(x0="x", y0="high", x1="x", y1="low", line_color="#000000", line_width=1.5, source=bsrc)
p.vbar(x="x", top="top", bottom="bottom", width=0.76, color="#000000", source=bsrc)

# last-price and year-start dotted lines
p.segment(x0=[X0], y0=[last_price], x1=[338.5], y1=[last_price], line_color="#111111", line_dash="2 3", line_width=1)
p.segment(x0=[year_break], y0=[PLOT_BOTTOM], x1=[year_break], y1=[Y1], line_color="#505050", line_dash="4 12", line_width=3.5)

for name, color, sx, py in zip(series_names, series_colors, name_sessions, name_prices):
    p.text(x=[sx], y=[py], text=[name], text_color=color, text_font=value("Liberation Sans"),
           text_font_style="bold italic", text_font_size="57px", text_baseline="middle", text_align="left")

# bottom icons
p.scatter(x=[272], y=[925], size=26, marker="circle", fill_color=None, line_color="#7a3ea0", line_width=2)
p.scatter(x=[273.1], y=[929.5], size=7, marker="circle", fill_color="#d9444c", line_color=None)
p.text(x=[272], y=[925], text=["⚡"], text_color="#7a3ea0", text_font=value("DejaVu Sans"),
       text_font_size="14px", text_align="center", text_baseline="middle")
p.scatter(x=[349], y=[925], size=26, marker="circle", fill_color=None, line_color="#777777", line_width=2)
p.text(x=[349], y=[925], text=["⧗"], text_color="#777777", text_font=value("DejaVu Sans"),
       text_font_size="15px", text_align="center", text_baseline="middle")

# month labels
for s, l in zip(month_sessions, month_labels):
    p.text(x=[s], y=[MONTH_Y], text=[l], text_color=INK, text_font=FONT, text_font_size=SIZE,
           text_font_style="bold" if l == "2026" else "normal", text_align="center", text_baseline="middle")
# price labels
for v in price_ticks:
    p.text(x=[LABEL_X], y=[v], text=[f"{v}'0"], text_color=INK, text_font=FONT, text_font_size=SIZE,
           text_font_style="bold" if v in bold_prices else "normal", text_align="left", text_baseline="middle")

# symbol tag and last-price tag
p.quad(left=[338.5, 350.85], right=[350.55, X1], bottom=[1215.7, 1215.7], top=[1224.5, 1224.5], color="#000000", line_color=None)
p.text(x=[344.5], y=[last_price], text=["ZSX2026"], text_color="#ffffff", text_font=FONT, text_font_size=SIZE,
       text_align="center", text_baseline="middle")
p.text(x=[LABEL_X], y=[last_price], text=[f"{last_price}'0"], text_color="#ffffff", text_font=FONT, text_font_size=SIZE,
       text_align="left", text_baseline="middle")

# the "BUA" scale button at the top right
p.quad(left=[351.4], right=[X1], bottom=[1421.4], top=[Y1], fill_color="#ffffff", line_color="#f1f2f5", line_width=1)
p.text(x=[353.1], y=[1427.5], text=["BUA"], text_color=INK, text_font=FONT, text_font_size="15px",
       text_align="left", text_baseline="middle")

open("out.html", "w").write(file_html(p, INLINE))
